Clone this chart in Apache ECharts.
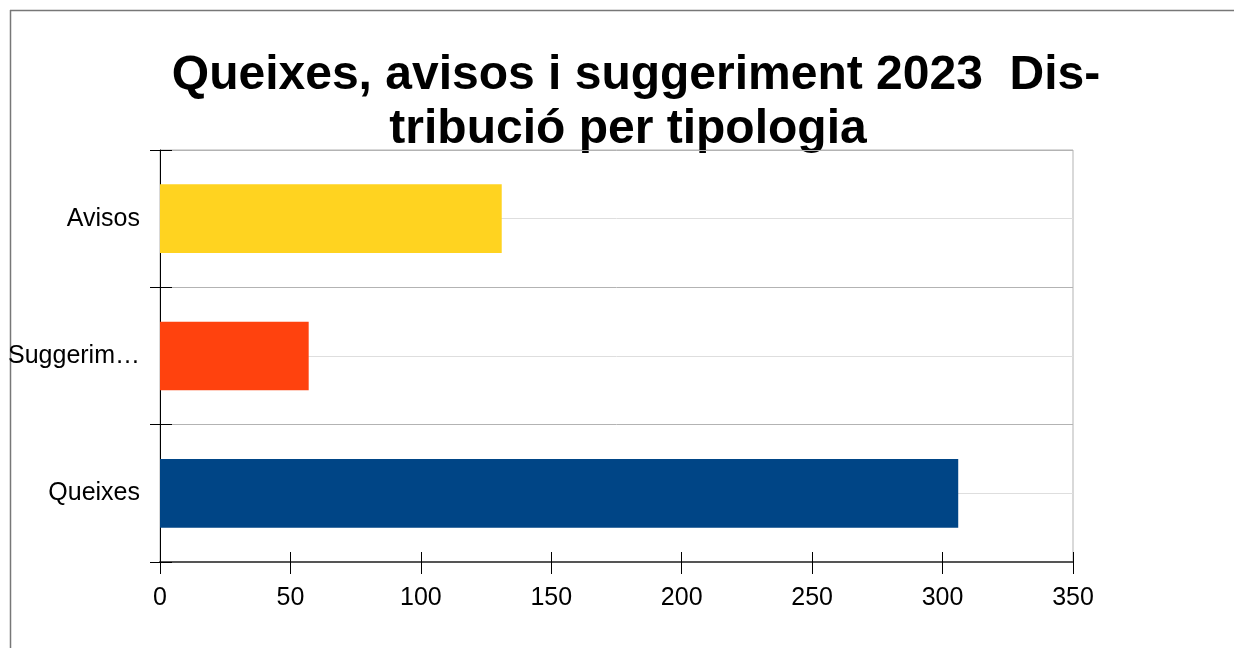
<!DOCTYPE html>
<html>
<head>
<meta charset="utf-8">
<script src="https://cdn.jsdelivr.net/npm/echarts@6/dist/echarts.min.js"></script>
<style>html,body{margin:0;padding:0;background:#fff;}#c{width:1234px;height:648px;}</style>
</head>
<body>
<div id="c"></div>
<script>
const titleLines = ['Queixes, avisos i suggeriment 2023  Dis-', 'tribució per tipologia'];
const categories = ['Queixes', 'Suggeriments', 'Avisos'];
const values = [306, 57, 131];
const barColors = ['#004586', '#ff420e', '#ffd320'];
const xTicks = [0, 50, 100, 150, 200, 250, 300, 350];

const chart = echarts.init(document.getElementById('c'));
const font = '"Liberation Sans", Arial, sans-serif';
chart.setOption({
  animation: false,
  grid: { left: 160, right: 161, top: 150, bottom: 86, show: true, borderColor: '#b3b3b3', borderWidth: 1, containLabel: false },
  graphic: [
    { type: 'line', shape: { x1: 10.5, y1: 10, x2: 10.5, y2: 648 }, style: { stroke: '#777', lineWidth: 1.5 } },
    { type: 'line', shape: { x1: 10, y1: 10.5, x2: 1234, y2: 10.5 }, style: { stroke: '#777', lineWidth: 1.5 } },
    { type: 'text', x: 636, y: 52, style: { text: titleLines[0], textAlign: 'center', verticalAlign: 'top', font: 'bold 48px ' + font, fill: '#000' } },
    { type: 'text', x: 628, y: 106, style: { text: titleLines[1], textAlign: 'center', verticalAlign: 'top', font: 'bold 48px ' + font, fill: '#000' } }
  ],
  xAxis: [
    { type: 'value', min: xTicks[0], max: xTicks[xTicks.length - 1], interval: 50, position: 'bottom',
      axisLine: { show: true, lineStyle: { color: '#555', width: 2 } },
      axisTick: { show: true, length: 12, lineStyle: { color: '#000' } },
      axisLabel: { margin: 24, fontSize: 25, color: '#000', fontFamily: font },
      splitLine: { show: false } },
    { type: 'value', min: xTicks[0], max: xTicks[xTicks.length - 1], interval: 50, position: 'bottom',
      axisLine: { show: false },
      axisTick: { show: true, inside: true, length: 10, lineStyle: { color: '#000' } },
      axisLabel: { show: false }, splitLine: { show: false } }
  ],
  yAxis: [
    { type: 'category', data: categories,
      axisLine: { show: true, lineStyle: { color: '#000' } },
      axisTick: { show: true, length: 10, lineStyle: { color: '#000' } },
      axisLabel: { margin: 20, fontSize: 25, color: '#000', fontFamily: font, width: 136, overflow: 'truncate', ellipsis: '…' },
      splitLine: { show: false } },
    { type: 'value', min: 0, max: 6, interval: 2, position: 'left',
      axisLine: { show: false },
      axisTick: { show: true, inside: true, length: 12, lineStyle: { color: '#000' } },
      axisLabel: { show: false },
      splitLine: { show: true, lineStyle: { color: '#b3b3b3' } },
      minorTick: { show: false, splitNumber: 2 },
      minorSplitLine: { show: true, lineStyle: { color: '#dedede' } } }
  ],
  series: [{
    type: 'bar', xAxisIndex: 0, yAxisIndex: 0, barWidth: '50%', z: 3,
    data: values.map((v, i) => ({ value: v, itemStyle: { color: barColors[i] } }))
  }]
});
</script>
</body>
</html>
